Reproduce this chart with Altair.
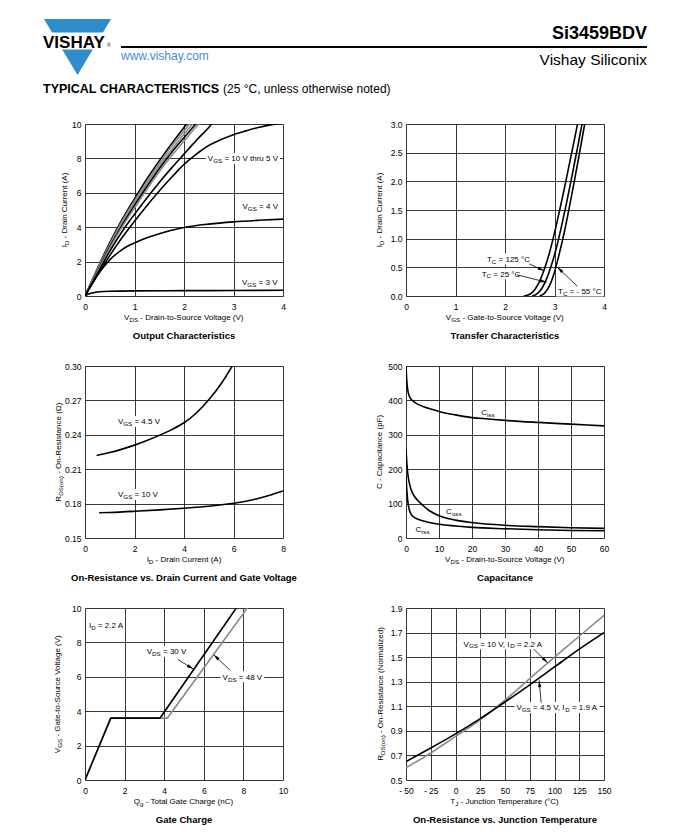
import math
import re
import altair as alt
import pandas as pd

FONT = "Liberation Sans"
W, H = 198, 172
GRAY = "#8c8c8c"
BLUE = "#2f8ccc"
LINK = "#3f8fd2"
GRID = "#222222"

# ---------------- data ----------------
# Output Characteristics: V_DS (V) -> I_D (A)
oc_v1 = [0, 0.25, 0.5, 0.75, 1.0, 1.25, 1.5, 1.75, 2.0, 2.25]
oc_i1 = [0, 1.6, 3.1, 4.45, 5.65, 6.8, 7.85, 8.85, 9.8, 10.7]
oc_i2 = [0, 1.55, 3.0, 4.35, 5.52, 6.65, 7.7, 8.7, 9.6, 10.5]
oc_i3 = [0, 1.5, 2.92, 4.25, 5.4, 6.5, 7.55, 8.5, 9.4, 10.25]
oc_i4 = [0, 1.45, 2.85, 4.12, 5.26, 6.35, 7.4, 8.35, 9.2, 10.05]
oc_v5 = [0, 0.25, 0.5, 0.75, 1.0, 1.25, 1.5, 1.75, 2.0, 2.25, 2.5]
oc_i5 = [0, 1.4, 2.78, 4.02, 5.12, 6.2, 7.22, 8.15, 9.0, 9.85, 10.6]
oc_v6 = [0, 0.25, 0.5, 0.75, 1.0, 1.25, 1.5, 1.75, 2.0, 2.25, 2.5, 2.6]
oc_i6 = [0, 1.3, 2.6, 3.75, 4.75, 5.7, 6.6, 7.45, 8.25, 9.05, 9.8, 10.15]
oc_v7 = [0, 0.25, 0.5, 0.75, 1.0, 1.25, 1.5, 1.75, 2.0, 2.25, 2.5, 2.75, 3.0, 3.25, 3.5, 3.75, 4.0]
oc_i7 = [0, 1.2, 2.35, 3.4, 4.35, 5.25, 6.1, 6.9, 7.65, 8.25, 8.75, 9.1, 9.38, 9.6, 9.8, 9.95, 10.05]
oc_v4v = [0, 0.1, 0.25, 0.5, 0.75, 1.0, 1.25, 1.5, 2.0, 2.5, 3.0, 3.5, 4.0]
oc_i4v = [0, 0.5, 1.2, 2.1, 2.7, 3.08, 3.38, 3.62, 3.98, 4.18, 4.31, 4.4, 4.47]
oc_v3v = [0, 0.05, 0.1, 0.2, 0.3, 0.5, 1.0, 2.0, 3.0, 4.0]
oc_i3v = [0, 0.08, 0.14, 0.21, 0.25, 0.28, 0.3, 0.31, 0.32, 0.33]

# Transfer Characteristics: V_GS (V) -> I_D (A)
tc_v125 = [2.38, 2.5, 2.6, 2.7, 2.8, 2.9, 3.0, 3.1, 3.2, 3.3, 3.4, 3.5]
tc_i125 = [0, 0.03, 0.11, 0.26, 0.48, 0.76, 1.1, 1.48, 1.88, 2.3, 2.72, 3.15]
tc_v25 = [2.55, 2.65, 2.75, 2.85, 2.95, 3.05, 3.15, 3.25, 3.35, 3.45, 3.55, 3.6]
tc_i25 = [0, 0.04, 0.14, 0.32, 0.57, 0.88, 1.25, 1.65, 2.08, 2.52, 2.97, 3.2]
tc_vm55 = [2.7, 2.8, 2.9, 3.0, 3.1, 3.2, 3.3, 3.4, 3.5, 3.6, 3.65]
tc_im55 = [0, 0.05, 0.18, 0.42, 0.75, 1.12, 1.55, 2.0, 2.47, 2.95, 3.2]

# On-Resistance vs Drain Current: I_D (A) -> R (ohm)
rd_i45 = [0.47, 1.0, 1.5, 2.0, 2.5, 3.0, 3.5, 4.0, 4.5, 5.0, 5.5, 5.95]
rd_r45 = [0.222, 0.2245, 0.2275, 0.231, 0.235, 0.2395, 0.2445, 0.2505, 0.259, 0.2705, 0.2845, 0.30]
rd_i10 = [0.57, 1.0, 2.0, 3.0, 4.0, 5.0, 6.0, 6.5, 7.0, 7.5, 8.0]
rd_r10 = [0.172, 0.1723, 0.1733, 0.1745, 0.176, 0.1777, 0.1803, 0.182, 0.1845, 0.1875, 0.191]

# Capacitance: V_DS (V) -> C (pF)
cap_v_iss = [0, 0.2, 0.5, 1.0, 1.5, 2.2, 3, 4, 5.6, 7.5, 10, 15, 20, 25, 30, 40, 50, 60]
cap_c_iss = [500, 462, 432, 413, 404, 398, 392, 387, 381, 375, 368, 358, 350, 346, 342, 336, 331, 326]
cap_v_oss = [0, 0.2, 0.5, 1.0, 1.5, 2.5, 3.5, 5, 7, 10, 15, 20, 30, 40, 50, 60]
cap_c_oss = [257, 225, 190, 160, 142, 122, 110, 96, 80, 65, 52, 45, 37, 33, 30, 28]
cap_v_rss = [0, 0.2, 0.5, 1.0, 1.5, 2.5, 3.5, 5, 7, 10, 15, 20, 30, 40, 50, 60]
cap_c_rss = [180, 145, 110, 82, 70, 60, 55, 50, 45, 40, 35, 31, 27, 24, 22, 21]

# Gate Charge: Qg (nC) -> V_GS (V)
gc_q30 = [0, 1.3, 3.79, 7.64]
gc_v30 = [0, 3.6, 3.6, 10]
gc_q48 = [0, 1.3, 4.16, 8.2]
gc_v48 = [0, 3.6, 3.6, 10]

# On-Resistance vs Junction Temperature: T_J (C) -> normalized R
rt_t = [-50, -25, 0, 25, 50, 75, 100, 125, 150]
rt_r45 = [0.65, 0.76, 0.875, 1.0, 1.135, 1.275, 1.42, 1.565, 1.70]
rt_r10 = [0.60, 0.72, 0.855, 0.99, 1.15, 1.325, 1.50, 1.67, 1.84]

# ---------------- helpers ----------------
CW = {' ': 278, '!': 278, '(': 333, ')': 333, '-': 333, '.': 278, ',': 278, '=': 584,
      '°': 400, 'Ω': 768, '/': 278,
      'A': 667, 'B': 667, 'C': 722, 'D': 722, 'E': 667, 'F': 611, 'G': 778, 'H': 722,
      'I': 278, 'J': 500, 'K': 667, 'L': 556, 'M': 833, 'N': 722, 'O': 778, 'P': 667,
      'Q': 778, 'R': 722, 'S': 667, 'T': 611, 'U': 722, 'V': 667, 'W': 944, 'X': 667,
      'Y': 667, 'Z': 611,
      'a': 556, 'b': 556, 'c': 500, 'd': 556, 'e': 556, 'f': 278, 'g': 556, 'h': 556,
      'i': 222, 'j': 222, 'k': 500, 'l': 222, 'm': 833, 'n': 556, 'o': 556, 'p': 556,
      'q': 556, 'r': 333, 's': 500, 't': 278, 'u': 556, 'v': 500, 'w': 722, 'x': 500,
      'y': 500, 'z': 500}


def tw(s, size):
    return sum(CW.get(c, 556) for c in s) * size / 1000.0


def parse(s):
    parts = re.split(r'_\{([^}]*)\}', s)
    segs = []
    for k, p in enumerate(parts):
        if p:
            segs.append((p, k % 2 == 1))
    return segs


ONE = pd.DataFrame({'k': [0]})


def seg_text(label, xe, ye, size=8.0, align='center', angle=0):
    segs = parse(label)
    sub = size * 0.78
    ws = [tw(t, sub if s else size) for t, s in segs]
    tot = sum(ws)
    off = {'center': -tot / 2, 'left': 0, 'right': -tot}[align]
    base = 0.36 * size
    layers = []
    for (t, s), w in zip(segs, ws):
        fs = sub if s else size
        lead = len(t) - len(t.lstrip(' '))
        body = t.strip(' ')
        if body:
            layers.append(
                alt.Chart(ONE).mark_text(
                    text=body, align='left', baseline='alphabetic',
                    dx=off + tw(' ' * lead, fs),
                    dy=base + (1.9 if s else 0), angle=angle, font=FONT,
                    fontSize=fs, color='black'
                ).encode(x=xe, y=ye)
            )
        off += w
    return layers, tot


def panel(curves, xdom, ydom, xvals, yvals, xfmt, yfmt, xtitle, ytitle, ytx,
          caption, notes, arrows, interp='monotone', xexpr=None):
    kx = W / (xdom[1] - xdom[0])
    ky = H / (ydom[1] - ydom[0])
    sx = alt.Scale(domain=xdom, nice=False, zero=False)
    sy = alt.Scale(domain=ydom, nice=False, zero=False)
    common = dict(grid=True, gridColor=GRID, gridWidth=0.9, domain=False, ticks=False,
                  tickSize=0, labelFont=FONT, labelFontSize=8.5, labelColor='black',
                  labelFlush=False, labelOverlap=False, title=None)
    axkw = dict(common, values=xvals, format=xfmt, labelPadding=6.5)
    if xexpr:
        axkw['labelExpr'] = xexpr
    ax = alt.Axis(**axkw)
    ay = alt.Axis(**dict(common, values=yvals, format=yfmt, labelPadding=4))

    def X(v):
        return alt.XDatum(v, scale=sx, axis=ax, type='quantitative')

    def Y(v):
        return alt.YDatum(v, scale=sy, axis=ay, type='quantitative')

    rows = []
    for name, xs, ys, col in curves:
        for i, (a, b) in enumerate(zip(xs, ys)):
            rows.append({'x': a, 'y': b, 'name': name, 'col': col, 'i': i})
    df = pd.DataFrame(rows)

    layers = []
    # white boxes behind labels
    for n in notes:
        if n.get('bg'):
            segs = parse(n['t'])
            size = 8.0
            tot = sum(tw(t, size * 0.78 if s else size) for t, s in segs)
            hw = (tot / 2 + 2) / kx
            hh = (size * 0.5 + 1.5) / ky
            layers.append(
                alt.Chart(ONE).mark_rect(color='white').encode(
                    x=X(n['x'] - hw), x2=alt.X2Datum(n['x'] + hw),
                    y=Y(n['y'] - hh), y2=alt.Y2Datum(n['y'] + hh))
            )
    layers.append(
        alt.Chart(df).mark_line(clip=True, strokeWidth=1.6, interpolate=interp).encode(
            x=alt.X('x:Q', scale=sx, axis=ax),
            y=alt.Y('y:Q', scale=sy, axis=ay),
            detail='name:N',
            color=alt.Color('col:N', scale=None),
            order='i:Q')
    )
    for n in notes:
        ls, _ = seg_text(n['t'], X(n['x']), Y(n['y']), align=n.get('align', 'center'))
        layers += ls
    for (x1, y1, x2, y2) in arrows:
        layers.append(
            alt.Chart(ONE).mark_rule(color='black', strokeWidth=0.8).encode(
                x=X(x1), y=Y(y1), x2=alt.X2Datum(x2), y2=alt.Y2Datum(y2))
        )
        ang = math.degrees(math.atan2((x2 - x1) * kx, (y2 - y1) * ky)) % 360
        layers.append(
            alt.Chart(ONE).mark_point(
                shape="M0,0L0.55,2.2L-0.55,2.2Z", size=36, filled=True, color='black',
                opacity=1, strokeWidth=0, angle=ang
            ).encode(x=X(x2), y=Y(y2))
        )
    ls, _ = seg_text(xtitle, alt.value(W / 2), alt.value(H + 21.5))
    layers += ls
    ls, _ = seg_text(ytitle, alt.value(ytx), alt.value(H / 2), angle=270)
    layers += ls
    layers.append(
        alt.Chart(ONE).mark_text(text=caption, font=FONT, fontSize=9.5, fontWeight='bold',
                                 align='center', baseline='middle', color='black')
        .encode(x=alt.value(W / 2), y=alt.value(H + 40))
    )
    return layers


# ---------------- panels ----------------
p1_layers = panel(
    [('a', oc_v1, oc_i1, 'black'), ('b', oc_v1, oc_i2, GRAY), ('c', oc_v1, oc_i3, GRAY),
     ('d', oc_v1, oc_i4, 'black'), ('e', oc_v5, oc_i5, GRAY), ('f', oc_v6, oc_i6, 'black'),
     ('g', oc_v7, oc_i7, 'black'), ('h', oc_v4v, oc_i4v, 'black'), ('k', oc_v3v, oc_i3v, 'black')],
    [0, 4], [0, 10], [0, 1, 2, 3, 4], [0, 2, 4, 6, 8, 10], 'd', 'd',
    "V_{DS} - Drain-to-Source Voltage (V)", "I_{D} - Drain Current (A)", -21,
    "Output Characteristics",
    [{'t': "V_{GS} = 10 V thru 5 V", 'x': 3.19, 'y': 8.0, 'bg': True},
     {'t': "V_{GS} = 4 V", 'x': 3.54, 'y': 5.22},
     {'t': "V_{GS} = 3 V", 'x': 3.53, 'y': 0.8}],
    [])

# header (positioned relative to the first panel's plot area)
hdr = []
hdr.append(alt.Chart(ONE).mark_rect(color='white').encode(
    x=alt.value(-76), x2=alt.value(-74), y=alt.value(-115), y2=alt.value(-113)))
hdr.append(alt.Chart(ONE).mark_point(
    shape="M-1,-0.836L1,-0.836L0,0.836Z", size=4489, filled=True, color=BLUE,
    opacity=1, strokeWidth=0).encode(x=alt.value(-7.5), y=alt.value(-77)))
hdr.append(alt.Chart(ONE).mark_rect(color='white').encode(
    x=alt.value(-46), x2=alt.value(30), y=alt.value(-91.5), y2=alt.value(-74.5)))
hdr.append(alt.Chart(ONE).mark_text(
    text="VISHAY", font=FONT, fontSize=17, fontWeight='bold', align='left',
    baseline='alphabetic', color='black').encode(x=alt.value(-42), y=alt.value(-76)))
hdr.append(alt.Chart(ONE).mark_text(
    text="®", font=FONT, fontSize=5, align='left', baseline='alphabetic',
    color='black').encode(x=alt.value(22), y=alt.value(-77)))
hdr.append(alt.Chart(ONE).mark_rule(color='black', strokeWidth=2).encode(
    x=alt.value(36), x2=alt.value(562), y=alt.value(-77)))
hdr.append(alt.Chart(ONE).mark_text(
    text="Si3459BDV", font=FONT, fontSize=18, fontWeight='bold', align='right',
    baseline='alphabetic', color='black').encode(x=alt.value(562), y=alt.value(-85)))
hdr.append(alt.Chart(ONE).mark_text(
    text="Vishay Siliconix", font=FONT, fontSize=15.5, align='right',
    baseline='alphabetic', color='black').encode(x=alt.value(562), y=alt.value(-59)))
hdr.append(alt.Chart(ONE).mark_text(
    text="www.vishay.com", font=FONT, fontSize=12, align='left',
    baseline='alphabetic', color=LINK).encode(x=alt.value(36), y=alt.value(-64)))
hdr.append(alt.Chart(ONE).mark_text(
    text="TYPICAL CHARACTERISTICS", font=FONT, fontSize=12.5, fontWeight='bold',
    align='left', baseline='alphabetic', color='black').encode(x=alt.value(-42), y=alt.value(-31)))
hdr.append(alt.Chart(ONE).mark_text(
    text="(25 °C, unless otherwise noted)", font=FONT, fontSize=12, align='left',
    baseline='alphabetic', color='black').encode(x=alt.value(138), y=alt.value(-31)))

p1 = alt.layer(*(p1_layers + hdr)).properties(width=W, height=H)

p2 = alt.layer(*panel(
    [('a', tc_v125, tc_i125, 'black'), ('b', tc_v25, tc_i25, 'black'),
     ('c', tc_vm55, tc_im55, 'black')],
    [0, 4], [0, 3], [0, 1, 2, 3, 4], [0, 0.5, 1.0, 1.5, 2.0, 2.5, 3.0], 'd', '.1f',
    "V_{GS} - Gate-to-Source Voltage (V)", "I_{D} - Drain Current (A)", -27,
    "Transfer Characteristics",
    [{'t': "T_{C} = 125 °C", 'x': 2.07, 'y': 0.645, 'bg': True},
     {'t': "T_{C} = 25 °C", 'x': 1.92, 'y': 0.39, 'bg': True},
     {'t': "T_{C} = - 55 °C", 'x': 3.51, 'y': 0.087, 'bg': True}],
    [(2.49, 0.56, 2.79, 0.44), (2.24, 0.37, 2.84, 0.24), (3.46, 0.17, 3.06, 0.5)],
)).properties(width=W, height=H)

p3 = alt.layer(*panel(
    [('a', rd_i45, rd_r45, 'black'), ('b', rd_i10, rd_r10, 'black')],
    [0, 8], [0.15, 0.30], [0, 2, 4, 6, 8], [0.15, 0.18, 0.21, 0.24, 0.27, 0.30], 'd', '.2f',
    "I_{D} - Drain Current (A)", "R_{DS(on)} - On-Resistance (Ω)", -27,
    "On-Resistance vs. Drain Current and Gate Voltage",
    [{'t': "V_{GS} = 4.5 V", 'x': 2.18, 'y': 0.2515, 'bg': True},
     {'t': "V_{GS} = 10 V", 'x': 2.14, 'y': 0.188, 'bg': True}],
    [])).properties(width=W, height=H)

p4 = alt.layer(*panel(
    [('a', cap_v_iss, cap_c_iss, 'black'), ('b', cap_v_oss, cap_c_oss, 'black'),
     ('c', cap_v_rss, cap_c_rss, 'black')],
    [0, 60], [0, 500], [0, 10, 20, 30, 40, 50, 60], [0, 100, 200, 300, 400, 500], 'd', 'd',
    "V_{DS} - Drain-to-Source Voltage (V)", "C - Capacitance (pF)", -27,
    "Capacitance",
    [{'t': "C_{iss}", 'x': 24.8, 'y': 367},
     {'t': "C_{oss}", 'x': 14.5, 'y': 78},
     {'t': "C_{rss}", 'x': 5.0, 'y': 26}],
    [])).properties(width=W, height=H)

p5 = alt.layer(*panel(
    [('b', gc_q48, gc_v48, GRAY), ('a', gc_q30, gc_v30, 'black')],
    [0, 10], [0, 10], [0, 2, 4, 6, 8, 10], [0, 2, 4, 6, 8, 10], 'd', 'd',
    "Q_{g} - Total Gate Charge (nC)", "V_{GS} - Gate-to-Source Voltage (V)", -28,
    "Gate Charge",
    [{'t': "I_{D} = 2.2 A", 'x': 0.2, 'y': 9.0, 'align': 'left'},
     {'t': "V_{DS} = 30 V", 'x': 4.12, 'y': 7.49, 'bg': True},
     {'t': "V_{DS} = 48 V", 'x': 7.95, 'y': 6.0, 'bg': True}],
    [(4.7, 7.0, 5.47, 6.45), (7.33, 6.38, 6.5, 7.28)],
    interp='linear')).properties(width=W, height=H)

p6 = alt.layer(*panel(
    [('b', rt_t, rt_r10, GRAY), ('a', rt_t, rt_r45, 'black')],
    [-50, 150], [0.5, 1.9], [-50, -25, 0, 25, 50, 75, 100, 125, 150],
    [0.5, 0.7, 0.9, 1.1, 1.3, 1.5, 1.7, 1.9], 'd', '.1f',
    "T_{J} - Junction Temperature (°C)", "R_{DS(on)} - On-Resistance (Normalized)", -26,
    "On-Resistance vs. Junction Temperature",
    [{'t': "V_{GS} = 10 V, I_{D} = 2.2 A", 'x': 48, 'y': 1.61, 'bg': True},
     {'t': "V_{GS} = 4.5 V, I_{D} = 1.9 A", 'x': 102.5, 'y': 1.09, 'bg': True}],
    [(79, 1.565, 93, 1.455), (86.5, 1.13, 84.5, 1.31)],
    xexpr="datum.value < 0 ? '- ' + format(-datum.value, 'd') : format(datum.value, 'd')",
)).properties(width=W, height=H)

chart = alt.concat(
    p1, p2, p3, p4, p5, p6, columns=2,
    spacing={"row": 70, "column": 123}, bounds='flush'
).properties(padding=0).configure_view(stroke='black', strokeWidth=1).configure(font=FONT)

chart.save("out.html", embed_options={"renderer": "svg", "actions": False})
